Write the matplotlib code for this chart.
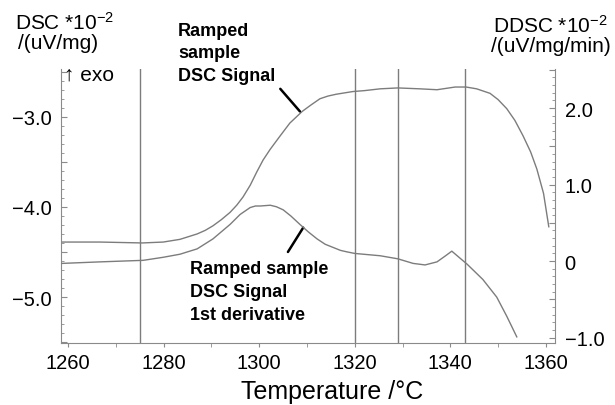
import matplotlib
matplotlib.use('Agg')
import matplotlib.pyplot as plt
from matplotlib.ticker import MultipleLocator, FuncFormatter

# DSC signal (left axis)
temp_dsc = [1258.7, 1266.7, 1275.5, 1279.9, 1283.4, 1287.0, 1288.7, 1290.3, 1292.1,
            1293.9, 1295.3, 1296.6, 1298.1, 1299.5, 1300.8, 1302.3, 1304.4, 1306.4,
            1309.0, 1310.8, 1312.7, 1314.4, 1316.1, 1319.6, 1322.0, 1325.3, 1329.0,
            1333.6, 1337.2, 1341.0, 1343.3, 1345.5, 1348.3, 1350.0, 1351.8, 1353.5,
            1355.2, 1356.8, 1358.1, 1359.5, 1360.6]
dsc = [-4.39, -4.39, -4.40, -4.39, -4.36, -4.30, -4.26, -4.21, -4.14,
       -4.06, -3.98, -3.89, -3.76, -3.61, -3.48, -3.36, -3.21, -3.07,
       -2.94, -2.87, -2.80, -2.77, -2.75, -2.72, -2.71, -2.69, -2.68,
       -2.69, -2.70, -2.67, -2.67, -2.69, -2.74, -2.81, -2.91, -3.04,
       -3.21, -3.39, -3.58, -3.85, -4.22]

# DSC 1st derivative (right axis)
temp_ddsc = [1258.7, 1266.7, 1275.7, 1279.9, 1283.4, 1287.0, 1290.3, 1293.9, 1296.0,
             1298.1, 1299.2, 1300.2, 1302.3, 1303.6, 1305.0, 1306.6, 1308.5, 1310.3,
             1312.1, 1313.8, 1315.4, 1317.0, 1318.4, 1320.0, 1325.3, 1329.0, 1332.2,
             1334.7, 1337.2, 1339.0, 1340.3, 1341.8, 1343.5, 1346.8, 1349.7, 1351.8,
             1353.9]
ddsc = [-0.03, -0.01, 0.01, 0.05, 0.09, 0.16, 0.29, 0.48, 0.61,
        0.70, 0.72, 0.72, 0.73, 0.71, 0.67, 0.59, 0.48, 0.38,
        0.29, 0.22, 0.18, 0.14, 0.12, 0.10, 0.07, 0.03, -0.03,
        -0.05, -0.01, 0.07, 0.13, 0.05, -0.04, -0.24, -0.47, -0.72,
        -0.99]

# vertical marker lines
marker_temps = [1275, 1320, 1329, 1343]

plt.rcParams['font.family'] = ['Liberation Sans', 'DejaVu Sans']
plt.rcParams['mathtext.fontset'] = 'custom'
plt.rcParams['mathtext.rm'] = 'Liberation Sans'
plt.rcParams['mathtext.it'] = 'Liberation Sans:italic'
plt.rcParams['mathtext.bf'] = 'Liberation Sans:bold'

W, H = 615, 406
line_col = '#7c7c7c'
spine_col = '#8a8a8a'


def px(x, y):
    return x / W, 1 - y / H


def fmt(v, pos):
    if abs(v - round(v)) > 1e-6:
        return ''
    if abs(v) < 1e-6:
        return '0'
    return f'{v:.1f}'.replace('-', '\u2212')


fig = plt.figure(figsize=(W / 100, H / 100), dpi=100)
ax = fig.add_axes([61 / W, 1 - 344 / H, (555 - 61) / W, (344 - 70) / H])

ax.plot(temp_dsc, dsc, color=line_col, lw=1.0)
for t in marker_temps:
    ax.axvline(t, color=line_col, lw=1.0)

ax2 = ax.twinx()
ax2.plot(temp_ddsc, ddsc, color=line_col, lw=1.0)

ax.set_xlim(1258.5, 1361.9)
ax.set_ylim(-5.51, -2.47)
ax2.set_ylim(-1.07, 2.51)

# spines
ax.spines['top'].set_visible(False)
ax.spines['right'].set_visible(False)
ax2.spines['top'].set_visible(False)
ax2.spines['left'].set_visible(False)
ax2.spines['bottom'].set_visible(False)
for s in ['left', 'bottom']:
    ax.spines[s].set_color(spine_col)
ax2.spines['right'].set_color(spine_col)

# x ticks
ax.xaxis.set_major_locator(MultipleLocator(20))
ax.xaxis.set_minor_locator(MultipleLocator(10))
ax.tick_params(axis='x', which='both', direction='out', length=3, color=spine_col,
               labelsize=14.5, pad=4)

# y ticks, labels only on whole numbers
for a in [ax, ax2]:
    a.yaxis.set_major_locator(MultipleLocator(0.5))
    a.yaxis.set_minor_locator(MultipleLocator(0.1))
    a.yaxis.set_major_formatter(FuncFormatter(fmt))
    a.tick_params(axis='y', which='major', direction='in', length=4, color=spine_col,
                  labelsize=14.5, pad=7)
    a.tick_params(axis='y', which='minor', direction='in', length=2, color=spine_col)

# axis titles
fig.text(*px(15, 30), r'DSC *10$^{\mathrm{-2}}$', fontsize=15, va='baseline')
fig.text(*px(18, 49), '/(uV/mg)', fontsize=15, va='baseline')
fig.text(*px(493, 33), r'DDSC *10$^{\mathrm{-2}}$', fontsize=15, va='baseline')
fig.text(*px(491, 52), '/(uV/mg/min)', fontsize=15, va='baseline')
fig.text(*px(64, 81), '\u2191 exo', fontsize=15, va='baseline')
fig.text(*px(332, 399), 'Temperature /°C', fontsize=18, va='baseline', ha='center')

# annotations
for i, s in enumerate(['Ramped', 'sample', 'DSC Signal']):
    fig.text(*px(178, 36 + 22.5 * i), s, fontsize=13, fontweight='bold', va='baseline')
for i, s in enumerate(['Ramped sample', 'DSC Signal', '1st derivative']):
    fig.text(*px(190, 274 + 23 * i), s, fontsize=13, fontweight='bold', va='baseline')

ax.annotate('', xy=(1308.5, -2.94), xytext=(1304.4, -2.69),
            arrowprops=dict(arrowstyle='-', lw=1.8, color='black', shrinkA=0, shrinkB=0))
ax.annotate('', xy=(1309.2, -4.23), xytext=(1306.0, -4.50),
            arrowprops=dict(arrowstyle='-', lw=1.8, color='black', shrinkA=0, shrinkB=0))

fig.savefig('out.png', dpi=100)
